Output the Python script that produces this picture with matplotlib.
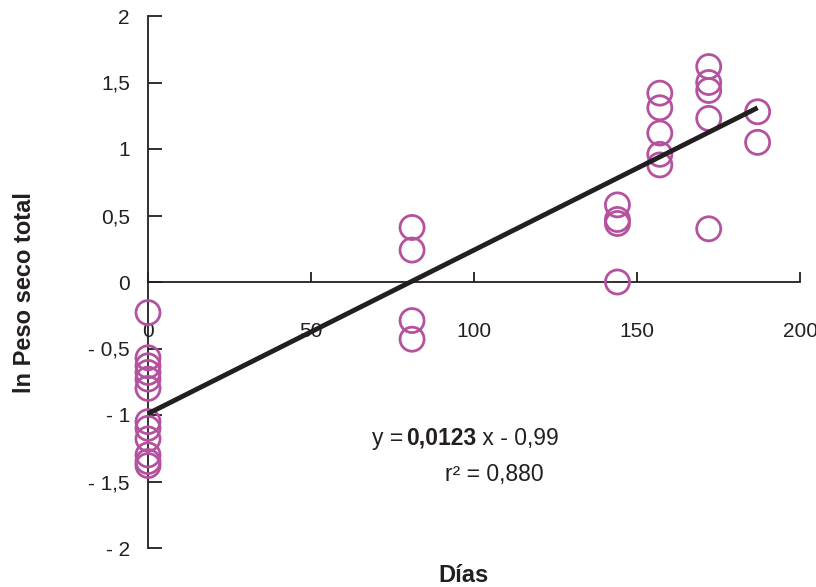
import matplotlib
matplotlib.use("Agg")
import matplotlib.pyplot as plt
import numpy as np

plt.rcParams['font.family'] = ['Liberation Sans', 'DejaVu Sans']

# Data (days, ln total dry weight)
dias = [0]*12 + [81]*4 + [144]*4 + [157]*5 + [172]*5 + [187]*2
ln_peso = [-0.23, -0.57, -0.63, -0.68, -0.73, -0.80, -1.05, -1.10, -1.18, -1.30, -1.35, -1.38,
           0.41, 0.24, -0.29, -0.43,
           0.58, 0.47, 0.44, 0.0,
           1.42, 1.31, 1.12, 0.96, 0.88,
           1.62, 1.50, 1.44, 1.23, 0.40,
           1.28, 1.05]
slope = 0.0123
intercept = -0.99
fit_x = [0, 187]

xticks = [0, 50, 100, 150, 200]
xticklabels = ["0", "50", "100", "150", "200"]
yticks = [2, 1.5, 1, 0.5, 0, -0.5, -1, -1.5, -2]
yticklabels = ["2", "1,5", "1", "0,5", "0", "- 0,5", "- 1", "- 1,5", "- 2"]

fig = plt.figure(figsize=(8.16, 5.87), dpi=100)
ax = fig.add_axes([148/816, 1-548/587, (800-148)/816, (548-16)/587])

ax.scatter(dias, ln_peso, s=300, facecolors='none', edgecolors='#B5529F',
           linewidths=2.0, clip_on=False, zorder=3)
fx = np.array(fit_x)
ax.plot(fx, slope*fx + intercept, color='#231F20', lw=3.5, zorder=4,
        solid_capstyle='butt')

ax.set_xlim(0, 200)
ax.set_ylim(-2, 2)
ax.spines['right'].set_visible(False)
ax.spines['top'].set_visible(False)
ax.spines['bottom'].set_position(('data', 0))
for s in ['left', 'bottom']:
    ax.spines[s].set_linewidth(1.3)
    ax.spines[s].set_color('#231F20')

ax.set_xticks(xticks)
ax.set_xticklabels(xticklabels)
ax.set_yticks(yticks)
ax.set_yticklabels(yticklabels)
ax.tick_params(axis='x', direction='in', length=7, width=1.3, pad=29,
               labelsize=15, colors='#231F20')
ax.tick_params(axis='y', direction='in', length=10, width=1.3, pad=13,
               labelsize=15, colors='#231F20')

fig.text(25/816, 1-293/587, "ln Peso seco total", rotation=90, ha='center',
         va='center', fontsize=17, fontweight='bold', color='#231F20')
fig.text(463/816, 1-576/587, "Días", ha='center', va='center', fontsize=17,
         fontweight='bold', color='#231F20')

# Equation built from consecutive text pieces
renderer = fig.canvas.get_renderer()
x0 = 372
yc = 1-438/587
pieces = [("y =", 'normal', 3), ("0,0123", 'bold', 0), (" x - 0,99", 'normal', 0)]
for txt, wt, gap in pieces:
    t = fig.text(x0/816, yc, txt, ha='left', va='center', fontsize=16.5,
                 fontweight=wt, color='#231F20')
    bb = t.get_window_extent(renderer)
    x0 = bb.x1 + gap
fig.text(445/816, 1-475/587, "r² = 0,880", ha='left', va='center', fontsize=16.5,
         color='#231F20')

fig.savefig("out.png", dpi=100)
